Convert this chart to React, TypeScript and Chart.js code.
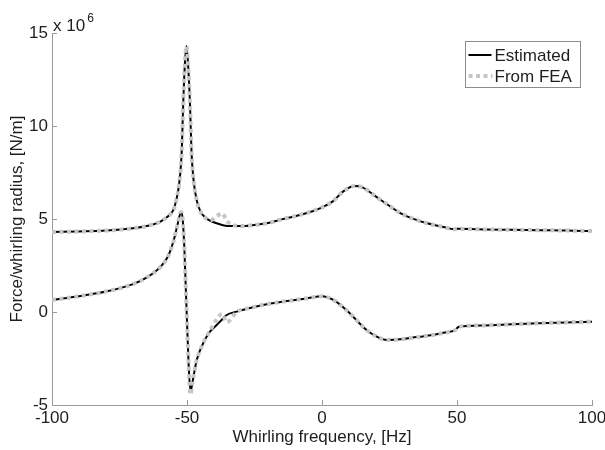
import React, { useEffect, useRef } from 'react';
import { Chart, registerables } from 'chart.js';

Chart.register(...registerables);

const FONT = '"Liberation Sans", Arial, Helvetica, sans-serif';
const TEXT = '#1e1e1e';
const AXIS = '#9a9a9a';
const FEA_COLOR = '#c6c6c6';

const xTicks = [-100, -50, 0, 50, 100];
const yTicks = [-5, 0, 5, 10, 15];
const legendLabels = ['Estimated', 'From FEA'];
const xTitle = 'Whirling frequency, [Hz]';
const yTitle = 'Force/whirling radius, [N/m]';
const exponentBase = 'x 10';
const exponentPower = '6';

// Upper curve (values in 1e6 N/m)
const upperFreq = [-100, -90, -80, -70, -65, -60, -57, -55, -54, -53, -52, -51.4, -50.8, -50.2, -49.6, -48.9, -48.3, -47.5, -46.4, -45, -43, -41, -39, -37, -35, -30, -25, -20, -15, -10, -5, -2, 0, 4, 8, 12, 15, 20, 25, 29, 35, 39, 45, 49, 50, 55, 60, 70, 80, 90, 100];
const upperEst = [4.30, 4.33, 4.38, 4.50, 4.62, 4.85, 5.15, 5.5, 6.0, 6.8, 8.5, 11.2, 13.3, 14.3, 13.3, 11.2, 8.5, 7.0, 6.0, 5.4, 5.05, 4.88, 4.77, 4.68, 4.63, 4.62, 4.68, 4.78, 4.98, 5.15, 5.35, 5.5, 5.62, 5.95, 6.5, 6.77, 6.7, 6.2, 5.7, 5.32, 4.95, 4.77, 4.57, 4.45, 4.47, 4.46, 4.44, 4.42, 4.40, 4.38, 4.35];
const upperFea = [4.30, 4.33, 4.38, 4.50, 4.62, 4.85, 5.15, 5.5, 6.0, 6.8, 8.5, 11.2, 13.3, 14.3, 13.3, 11.2, 8.5, 7.0, 6.0, 5.4, 5.05, 4.95, 5.15, 5.3, 4.85, 4.62, 4.68, 4.78, 4.98, 5.15, 5.35, 5.5, 5.62, 5.95, 6.5, 6.77, 6.7, 6.2, 5.7, 5.32, 4.95, 4.77, 4.57, 4.45, 4.47, 4.46, 4.44, 4.42, 4.40, 4.38, 4.35];

// Lower curve (values in 1e6 N/m)
const lowerFreq = [-100, -90, -80, -70, -65, -60, -57, -55, -53.5, -52.2, -51.6, -51, -50.5, -50, -49.4, -48.7, -48, -47, -46.4, -44, -41.5, -39, -37, -35.3, -31.6, -26.7, -20.5, -14.3, -8.1, -2, 0, 4.2, 9.1, 16.5, 20, 24, 30, 35, 41, 45, 49.3, 50.7, 60, 70, 80, 90, 100];
const lowerEst = [0.65, 0.85, 1.1, 1.5, 1.85, 2.4, 3.0, 3.8, 4.7, 5.38, 5.0, 3.5, 1.5, -0.5, -2.8, -4.28, -3.8, -3.0, -2.58, -1.68, -1.06, -0.70, -0.4, -0.16, 0.02, 0.22, 0.42, 0.56, 0.68, 0.82, 0.85, 0.65, 0.1, -0.97, -1.3, -1.5, -1.45, -1.35, -1.24, -1.12, -0.97, -0.79, -0.72, -0.66, -0.6, -0.56, -0.52];
const lowerFea = [0.65, 0.85, 1.1, 1.5, 1.85, 2.4, 3.0, 3.8, 4.7, 5.38, 5.0, 3.5, 1.5, -0.5, -2.8, -4.45, -3.8, -3.0, -2.58, -1.68, -1.0, -0.4, -0.1, -0.55, 0.0, 0.22, 0.42, 0.56, 0.68, 0.82, 0.85, 0.65, 0.1, -0.97, -1.3, -1.5, -1.45, -1.35, -1.24, -1.12, -0.97, -0.79, -0.72, -0.66, -0.6, -0.56, -0.52];

const toPoints = (xs: number[], ys: number[]) => xs.map((x, i) => ({ x, y: ys[i] }));

export default function App() {
  const canvasRef = useRef<HTMLCanvasElement>(null);

  useEffect(() => {
    const canvas = canvasRef.current;
    if (!canvas) return;

    const decor = {
      id: 'matlabDecor',
      afterDraw(chart: any) {
        const { ctx, chartArea: a, scales } = chart;
        const xs = scales.x;
        const ys = scales.y;
        ctx.save();
        // inward tick marks
        ctx.strokeStyle = AXIS;
        ctx.lineWidth = 1;
        xTicks.forEach((v) => {
          const px = Math.round(xs.getPixelForValue(v)) + 0.5;
          ctx.beginPath();
          ctx.moveTo(px, a.bottom);
          ctx.lineTo(px, a.bottom - 5);
          ctx.stroke();
        });
        yTicks.forEach((v) => {
          const py = Math.round(ys.getPixelForValue(v)) + 0.5;
          ctx.beginPath();
          ctx.moveTo(a.left, py);
          ctx.lineTo(a.left + 5, py);
          ctx.stroke();
        });

        // exponent label
        ctx.fillStyle = TEXT;
        ctx.textAlign = 'left';
        ctx.textBaseline = 'alphabetic';
        ctx.font = `17px ${FONT}`;
        ctx.fillText(exponentBase, a.left + 1, a.top - 2);
        const w = ctx.measureText(exponentBase).width;
        ctx.font = `12px ${FONT}`;
        ctx.fillText(exponentPower, a.left + 3 + w, a.top - 11);

        // legend box
        const bx = a.right - 126.5;
        const by = 41.5;
        const bw = 115;
        const bh = 46;
        ctx.fillStyle = '#ffffff';
        ctx.fillRect(bx, by, bw, bh);
        ctx.strokeStyle = '#8c8c8c';
        ctx.lineWidth = 1;
        ctx.strokeRect(bx, by, bw, bh);

        const rows = [55, 76];
        // Estimated sample
        ctx.strokeStyle = '#000000';
        ctx.lineWidth = 2;
        ctx.setLineDash([]);
        ctx.beginPath();
        ctx.moveTo(bx + 3, rows[0]);
        ctx.lineTo(bx + 26, rows[0]);
        ctx.stroke();
        // FEA sample
        ctx.strokeStyle = FEA_COLOR;
        ctx.lineWidth = 4;
        ctx.setLineDash([4, 3.5]);
        ctx.beginPath();
        ctx.moveTo(bx + 3, rows[1]);
        ctx.lineTo(bx + 27, rows[1]);
        ctx.stroke();
        ctx.setLineDash([]);

        ctx.fillStyle = TEXT;
        ctx.font = `17px ${FONT}`;
        ctx.textBaseline = 'middle';
        legendLabels.forEach((t, i) => ctx.fillText(t, bx + 29, rows[i] + 1));
        ctx.restore();
      },
    };

    const chart = new Chart(canvas, {
      type: 'line',
      data: {
        datasets: [
          {
            label: legendLabels[1],
            data: toPoints(upperFreq, upperFea),
            borderColor: FEA_COLOR,
            borderWidth: 4,
            borderDash: [4, 3.5],
            pointRadius: 0,
            cubicInterpolationMode: 'monotone',
            order: 0,
          },
          {
            label: legendLabels[1],
            data: toPoints(lowerFreq, lowerFea),
            borderColor: FEA_COLOR,
            borderWidth: 4,
            borderDash: [4, 3.5],
            pointRadius: 0,
            cubicInterpolationMode: 'monotone',
            order: 0,
          },
          {
            label: legendLabels[0],
            data: toPoints(upperFreq, upperEst),
            borderColor: '#000000',
            borderWidth: 2,
            pointRadius: 0,
            cubicInterpolationMode: 'monotone',
            order: 1,
          },
          {
            label: legendLabels[0],
            data: toPoints(lowerFreq, lowerEst),
            borderColor: '#000000',
            borderWidth: 2,
            pointRadius: 0,
            cubicInterpolationMode: 'monotone',
            order: 1,
          },
        ],
      },
      options: {
        responsive: false,
        animation: false,
        events: [],
        layout: { padding: { top: 33, right: 13, left: 0, bottom: 0 } },
        plugins: { legend: { display: false }, tooltip: { enabled: false } },
        scales: {
          x: {
            type: 'linear',
            min: -100,
            max: 100,
            afterBuildTicks: (s: any) => {
              s.ticks = xTicks.map((v) => ({ value: v }));
            },
            afterFit: (s: any) => {
              s.height = 45;
              s.paddingLeft = 0;
              s.paddingRight = 0;
            },
            grid: { display: false, drawTicks: false },
            border: { display: true, color: AXIS, width: 1 },
            ticks: {
              autoSkip: false,
              maxRotation: 0,
              padding: 3,
              color: TEXT,
              font: { family: FONT, size: 17 },
            },
            title: {
              display: true,
              text: xTitle,
              color: TEXT,
              font: { family: FONT, size: 17 },
              padding: { top: 0, bottom: 2 },
            },
          },
          y: {
            type: 'linear',
            min: -5,
            max: 15,
            afterBuildTicks: (s: any) => {
              s.ticks = yTicks.map((v) => ({ value: v }));
            },
            afterFit: (s: any) => {
              s.width = 52;
              s.paddingTop = 0;
              s.paddingBottom = 0;
            },
            grid: { display: false, drawTicks: false },
            border: { display: true, color: AXIS, width: 1 },
            ticks: {
              autoSkip: false,
              padding: 4,
              color: TEXT,
              font: { family: FONT, size: 17 },
            },
            title: {
              display: true,
              text: yTitle,
              color: TEXT,
              font: { family: FONT, size: 17 },
              padding: { top: 7, bottom: 0 },
            },
          },
        },
      },
      plugins: [decor],
    } as any);

    return () => chart.destroy();
  }, []);

  return (
    <div style={{ position: 'absolute', left: 0, top: 0, width: 605, height: 450, background: '#fff' }}>
      <canvas ref={canvasRef} width={605} height={450} style={{ width: 605, height: 450, display: 'block' }} />
    </div>
  );
}
